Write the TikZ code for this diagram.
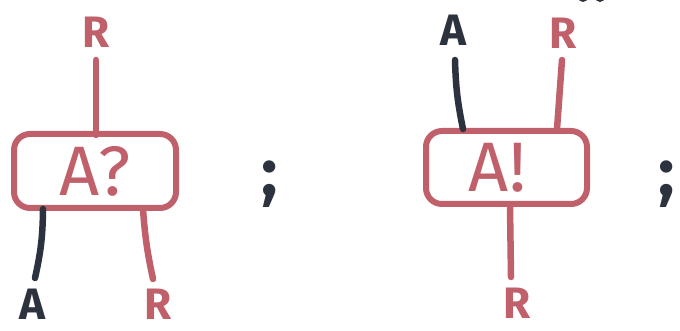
\documentclass[tikz,border=0pt]{standalone}
\usepackage{fontspec}
\setmainfont{Fira Sans}
\definecolor{wred}{RGB}{192,96,106}
\definecolor{wdark}{RGB}{44,51,63}
\begin{document}
\begin{tikzpicture}[x=1pt,y=-1pt,
  wire/.style={line width=6.5pt,line cap=round},
  redwire/.style={wire,draw=wred},
  darkwire/.style={wire,draw=wdark},
  gate/.style={draw=wred,line width=6pt,rounded corners=16pt,text=wred,
    font=\fontsize{70}{70}\selectfont,inner sep=0pt},
  lbl/.style={font=\bfseries\fontsize{44}{44}\selectfont,inner sep=0pt},
  redlbl/.style={lbl,text=wred},
  darklbl/.style={lbl,text=wdark},
  semi/.style={font=\bfseries\fontsize{68}{68}\selectfont,text=wdark,inner sep=0pt}]
\useasboundingbox (0,0) rectangle (680,331);

% ---- receiving gate ----
\node[gate,minimum width=162pt,minimum height=74pt] (gl) at (95,171) {A?};
\node[redlbl] (lr1) at (96,32) {R};
\node[darklbl] (la) at (32,304) {A};
\node[redlbl] (lr2) at (158,304) {R};
\coordinate (gl-n) at (96,135);
\coordinate (gl-sw) at (43,209);
\coordinate (gl-se) at (143,209);
\coordinate (lr1-e) at (96,60);
\coordinate (la-e) at (35,278);
\coordinate (lr2-e) at (153,279);
\draw[redwire] (gl-n) -- (lr1-e);
\draw[darkwire] (gl-sw) to[bend left=6] (la-e);
\draw[redwire] (gl-se) to[bend right=4] (lr2-e);
\node[semi] (s1) at (270,184) {;};

% ---- sending gate ----
\node[gate,minimum width=161pt,minimum height=73pt] (gr) at (506.5,167.5) {\hspace*{-18pt}A!};
\node[darklbl] (ra) at (453,30) {A};
\node[redlbl] (rr1) at (563,33) {R};
\node[redlbl] (rr2) at (517,303) {R};
\coordinate (gr-nw) at (463,129);
\coordinate (gr-ne) at (557,129);
\coordinate (gr-s) at (510,206);
\coordinate (ra-e) at (455,60);
\coordinate (rr1-e) at (562,60);
\coordinate (rr2-e) at (511,277);
\draw[darkwire] (gr-nw) to[bend left=5] (ra-e);
\draw[redwire] (gr-ne) -- (rr1-e);
\draw[redwire] (gr-s) -- (rr2-e);
\node[semi] (s2) at (667,184) {;};

% ---- marks along the top edge ----
\begin{scope}
\clip (0,0) rectangle (680,331);
\fill[wdark] (583,-3) circle (5pt);
\fill[wdark] (600,-3) circle (5pt);
\end{scope}
\end{tikzpicture}
\end{document}
